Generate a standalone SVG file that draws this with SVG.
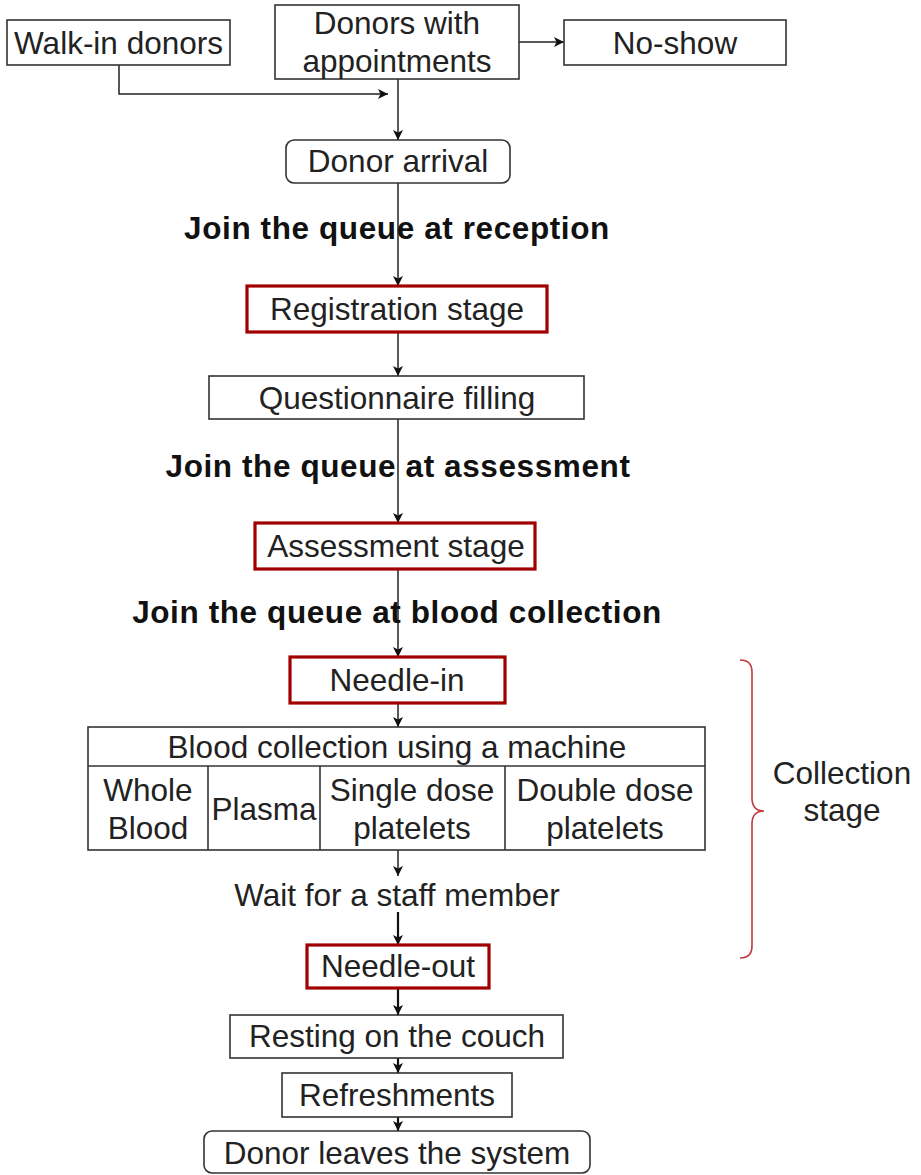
<svg xmlns="http://www.w3.org/2000/svg" width="921" height="1175" viewBox="0 0 921 1175">
<defs>
<marker id="arr" viewBox="0 0 10 10" refX="10" refY="5" markerWidth="10" markerHeight="10" markerUnits="userSpaceOnUse" orient="auto">
<path d="M0,0 L10,5 L0,10 L2.5,5 Z" fill="#111"/>
</marker>
<style>
.box{fill:#fff;stroke:#333;stroke-width:1.6}
.red{fill:#fff;stroke:#a00000;stroke-width:3.2}
.t{font-family:"Liberation Sans",Arial,sans-serif;font-size:31.5px;fill:#222;text-anchor:middle}
.b{font-family:"Liberation Sans",Arial,sans-serif;font-size:31.5px;font-weight:bold;fill:#111;text-anchor:middle;letter-spacing:0.6px}
.c{fill:none;stroke:#222;stroke-width:1.5}
.ct{fill:none;stroke:#111;stroke-width:2.2}
.div{stroke:#333;stroke-width:1.6}
</style>
</defs>
<rect width="921" height="1175" fill="#fff"/>
<g id="connectors">
<path class="c" d="M119,65 V94 H388" marker-end="url(#arr)"/>
<path class="c" d="M519,42 H564" marker-end="url(#arr)"/>
<path class="c" d="M398,79 V140" marker-end="url(#arr)"/>
<path class="c" d="M398,183 V286" marker-end="url(#arr)"/>
<path class="c" d="M398,332 V376" marker-end="url(#arr)"/>
<path class="c" d="M398,419 V523" marker-end="url(#arr)"/>
<path class="c" d="M398,569 V657" marker-end="url(#arr)"/>
<path class="c" d="M398,695 V727" marker-end="url(#arr)"/>
<path class="c" d="M398,850 V876" marker-end="url(#arr)"/>
<path class="ct" d="M398,912 V945" marker-end="url(#arr)"/>
<path class="ct" d="M398,988 V1015" marker-end="url(#arr)"/>
<path class="ct" d="M398,1058 V1073" marker-end="url(#arr)"/>
<path class="ct" d="M398,1117 V1131" marker-end="url(#arr)"/>
</g>
<g id="walkin"><rect class="box" x="7" y="20" width="223" height="45"/><text class="t" x="118.5" y="54">Walk-in donors</text></g>
<g id="appointments"><rect class="box" x="275" y="5" width="244" height="74"/><text class="t" x="397" y="34">Donors with</text><text class="t" x="397" y="72">appointments</text></g>
<g id="noshow"><rect class="box" x="564" y="20" width="222" height="45"/><text class="t" x="675" y="54">No-show</text></g>
<g id="arrival"><rect class="box" x="286" y="140" width="224" height="43" rx="8"/><text class="t" x="398" y="172">Donor arrival</text></g>
<g id="label-reception"><text class="b" x="397" y="239">Join the queue at reception</text></g>
<g id="registration"><rect class="red" x="247" y="286" width="300" height="46"/><text class="t" x="397" y="320">Registration stage</text></g>
<g id="questionnaire"><rect class="box" x="209" y="376" width="375" height="43"/><text class="t" x="397" y="409">Questionnaire filling</text></g>
<g id="label-assessment"><text class="b" x="398" y="477">Join the queue at assessment</text></g>
<g id="assessment"><rect class="red" x="255" y="523" width="280" height="46"/><text class="t" x="396" y="557">Assessment stage</text></g>
<g id="label-collection"><text class="b" x="397" y="623">Join the queue at blood collection</text></g>
<g id="needlein"><rect class="red" x="290" y="657" width="215" height="46"/><text class="t" x="397" y="691">Needle-in</text></g>
<g id="machine">
<rect class="box" x="88" y="727" width="617" height="123"/>
<line class="div" x1="88" y1="766" x2="705" y2="766"/>
<line class="div" x1="208" y1="766" x2="208" y2="850"/>
<line class="div" x1="320" y1="766" x2="320" y2="850"/>
<line class="div" x1="505" y1="766" x2="505" y2="850"/>
<text class="t" x="397" y="758">Blood collection using a machine</text>
<text class="t" x="148" y="801">Whole</text><text class="t" x="148" y="839">Blood</text>
<text class="t" x="264" y="820">Plasma</text>
<text class="t" x="412" y="801">Single dose</text><text class="t" x="412" y="839">platelets</text>
<text class="t" x="605" y="801">Double dose</text><text class="t" x="605" y="839">platelets</text>
</g>
<g id="label-wait"><text class="t" x="397" y="906">Wait for a staff member</text></g>
<g id="needleout"><rect class="red" x="307" y="945" width="182" height="43"/><text class="t" x="398" y="977">Needle-out</text></g>
<g id="resting"><rect class="box" x="230" y="1015" width="333" height="43"/><text class="t" x="397" y="1047">Resting on the couch</text></g>
<g id="refreshments"><rect class="box" x="282" y="1073" width="230" height="44"/><text class="t" x="397" y="1106">Refreshments</text></g>
<g id="leaves"><rect class="box" x="204" y="1131" width="386" height="42" rx="8"/><text class="t" x="397" y="1164">Donor leaves the system</text></g>
<g id="collection-stage">
<path d="M740,660 Q752,660 752,672 L752,798 Q752,811 764,811 Q752,811 752,824 L752,946 Q752,958 740,958" fill="none" stroke="#c0393b" stroke-width="1.6"/>
<text class="t" x="842" y="784">Collection</text><text class="t" x="842" y="821">stage</text>
</g>
</svg>
